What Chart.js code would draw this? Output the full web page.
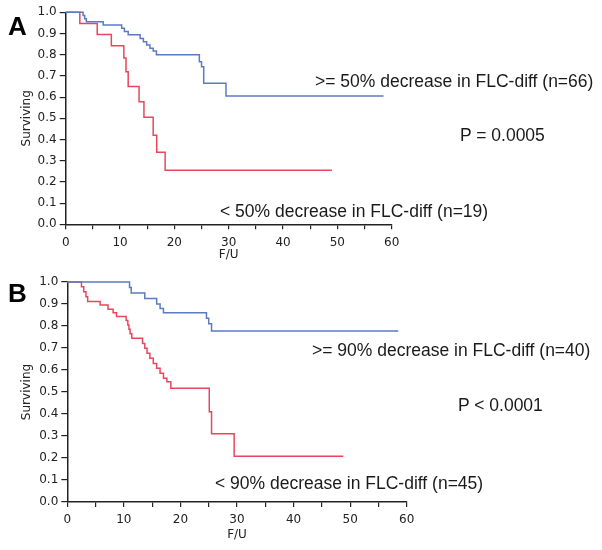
<!DOCTYPE html>
<html><head><meta charset="utf-8">
<script src="https://cdn.jsdelivr.net/npm/chart.js@4.4.1/dist/chart.umd.min.js"></script>
<style>
html,body{margin:0;padding:0;background:#fff;}
#wrap{position:relative;width:602px;height:550px;overflow:hidden;background:#fff;}
canvas{position:absolute;left:0;}
.t{position:absolute;font-family:"Liberation Sans",Arial,sans-serif;font-size:17.5px;line-height:17.5px;color:#1a1a1a;white-space:nowrap;}
.lab{position:absolute;font-family:"Liberation Sans",Arial,sans-serif;font-weight:bold;font-size:26px;line-height:26px;color:#000;}
</style></head><body>
<div id="wrap">
<canvas id="cA" width="602" height="265" style="top:0px"></canvas>
<canvas id="cB" width="602" height="280" style="top:270px"></canvas>
<div class="lab" style="left:8px;top:13px">A</div>
<div class="lab" style="left:8px;top:280px">B</div>
<div class="t" style="left:315px;top:73px">&gt;= 50% decrease in FLC-diff (n=66)</div>
<div class="t" style="left:460px;top:127px">P = 0.0005</div>
<div class="t" style="left:220px;top:203px">&lt; 50% decrease in FLC-diff (n=19)</div>
<div class="t" style="left:312px;top:342px">&gt;= 90% decrease in FLC-diff (n=40)</div>
<div class="t" style="left:458px;top:397px">P &lt; 0.0001</div>
<div class="t" style="left:215px;top:475px">&lt; 90% decrease in FLC-diff (n=45)</div>
</div>
<script>
// Panel A: >= 50% decrease (n=66) and < 50% decrease (n=19)
const timeA_hi = [0, 3.2, 3.5, 3.8, 6.9, 10.3, 10.8, 11.5, 13.7, 14.3, 14.9, 15.5, 16.1, 16.7, 24.6, 25.0, 25.4, 29.5, 58.5];
const survA_hi = [1.0, 0.985, 0.97, 0.955, 0.94, 0.925, 0.91, 0.894, 0.877, 0.861, 0.846, 0.83, 0.817, 0.80, 0.767, 0.743, 0.665, 0.605, 0.605];
const timeA_lo = [0, 2.6, 5.8, 8.4, 10.7, 11.1, 11.5, 13.5, 14.4, 16.1, 16.75, 18.3, 49.0];
const survA_lo = [1.0, 0.947, 0.895, 0.842, 0.785, 0.72, 0.65, 0.578, 0.505, 0.42, 0.34, 0.255, 0.255];
// Panel B: >= 90% decrease (n=40) and < 90% decrease (n=45)
const timeB_hi = [0, 11.0, 11.3, 13.7, 15.8, 16.4, 17.0, 24.6, 25.0, 25.5, 58.5];
const survB_hi = [1.0, 0.975, 0.95, 0.925, 0.90, 0.88, 0.86, 0.835, 0.81, 0.777, 0.777];
const timeB_lo = [0, 2.5, 2.9, 3.3, 3.6, 5.8, 7.2, 8.1, 8.7, 10.4, 10.7, 10.9, 11.1, 11.4, 13.3, 13.7, 14.1, 14.6, 15.2, 15.8, 16.4, 17.0, 17.6, 18.3, 25.1, 25.5, 29.5, 48.8];
const survB_lo = [1.0, 0.978, 0.956, 0.933, 0.911, 0.895, 0.876, 0.86, 0.843, 0.825, 0.805, 0.785, 0.765, 0.744, 0.721, 0.699, 0.676, 0.653, 0.63, 0.608, 0.585, 0.562, 0.547, 0.517, 0.41, 0.31, 0.208, 0.208];
// Axis tick labels
const xTicks = [0, 10, 20, 30, 40, 50, 60];
const yTicks = [0.0, 0.1, 0.2, 0.3, 0.4, 0.5, 0.6, 0.7, 0.8, 0.9, 1.0];
const xTitle = 'F/U';
const yTitle = 'Surviving';

const BLUE = '#5a7bc2';
const RED = '#e8465c';
const AX = '#222';

function pts(t, s) { return t.map((v, i) => ({x: v, y: s[i]})); }

function makeChart(id, hiT, hiS, loT, loS, g) {
  const font = {family: 'DejaVu Sans', size: 12};
  return new Chart(document.getElementById(id), {
    type: 'line',
    data: {
      datasets: [
        {data: pts(hiT, hiS), borderColor: BLUE, borderWidth: 1.5, pointRadius: 0, stepped: 'before', fill: false, clip: 4},
        {data: pts(loT, loS), borderColor: RED, borderWidth: 1.5, pointRadius: 0, stepped: 'before', fill: false, clip: 4}
      ]
    },
    options: {
      responsive: false, animation: false, devicePixelRatio: 1,
      layout: {padding: {top: g.padTop, right: g.padRight, bottom: 0, left: 0}},
      plugins: {legend: {display: false}, tooltip: {enabled: false}},
      scales: {
        x: {
          type: 'linear', min: 0, max: 60,
          afterFit: s => { s.height = g.xH; },
          border: {display: true, color: AX, width: 1.5},
          grid: {display: true, drawOnChartArea: false, drawTicks: true, tickLength: 5, color: AX, lineWidth: 1.2},
          ticks: {stepSize: 5, autoSkip: false, maxRotation: 0, padding: 6, color: AX, font: font,
            callback: v => xTicks.includes(v) ? String(v) : ''},
          title: {display: true, text: xTitle, color: AX, font: font, padding: {top: 0, bottom: g.xTitlePad}}
        },
        y: {
          type: 'linear', min: 0, max: 1,
          afterFit: s => { s.width = g.yW; },
          afterBuildTicks: s => { s.ticks = yTicks.map(v => ({value: v})); },
          border: {display: true, color: AX, width: 1.5},
          grid: {display: true, drawOnChartArea: false, drawTicks: true, tickLength: 6, color: AX, lineWidth: 1.2},
          ticks: {padding: 3, color: AX, font: font, callback: v => Number(v).toFixed(1)},
          title: {display: true, text: yTitle, color: AX, font: font, padding: {top: 20, bottom: 0}}
        }
      }
    }
  });
}

makeChart('cA', timeA_hi, survA_hi, timeA_lo, survA_lo,
  {padTop: 12.3, padRight: 210.3, yW: 65.7, xH: 40.7, xTitlePad: 2.8});
makeChart('cB', timeB_hi, survB_hi, timeB_lo, survB_lo,
  {padTop: 12, padRight: 195.3, yW: 67.3, xH: 48, xTitlePad: 7.8});
</script>
</body></html>
